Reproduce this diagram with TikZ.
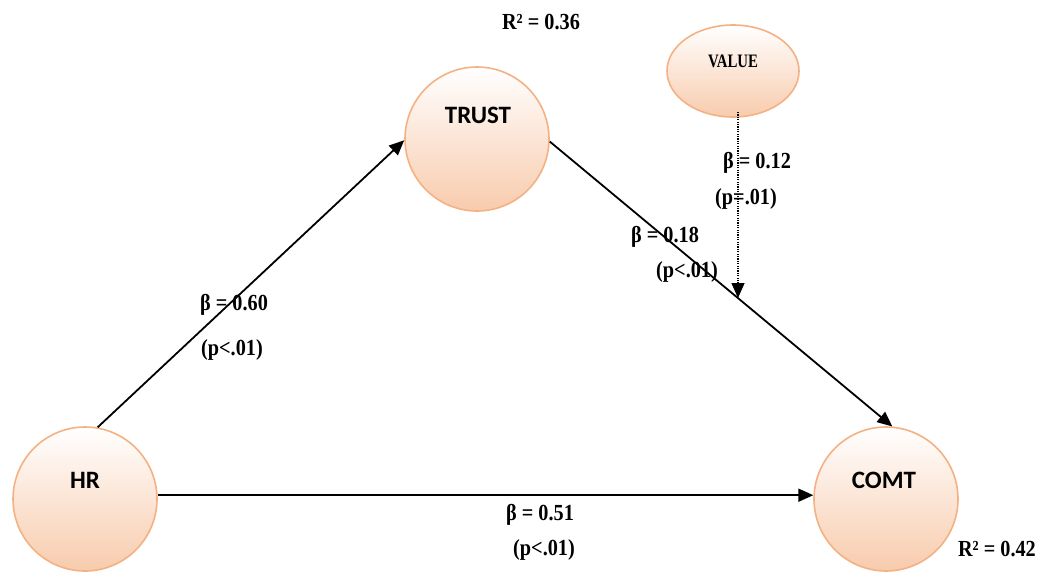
\documentclass[tikz,border=0pt]{standalone}
\usepackage{fontspec}
\setmainfont{Liberation Serif}
\newfontfamily\calib{Carlito}
\usetikzlibrary{arrows.meta,shapes.geometric}
\definecolor{peach}{HTML}{F8CBAD}
\definecolor{peachline}{HTML}{F4B183}
\newcommand{\cond}[1]{\scalebox{0.88}[1]{#1}}
\tikzset{
  construct/.style={circle, minimum size=144pt, inner sep=0pt, draw=peachline, line width=1.6pt, top color=white, bottom color=peach},
  valuebox/.style={ellipse, minimum width=132pt, minimum height=92pt, inner sep=0pt, draw=peachline, line width=1.6pt, top color=white, bottom color=peach},
  cname/.style={font=\calib\bfseries\fontsize{25}{28}\selectfont, inner sep=0pt},
  lbl/.style={font=\bfseries\fontsize{23}{26}\selectfont, inner sep=0pt, align=center},
  path/.style={line width=1.8pt, -{Triangle[length=15pt,width=13pt]}},
}
\begin{document}
\begin{tikzpicture}[x=1pt,y=-1pt]
\useasboundingbox (0,0) rectangle (1041,576);
\node[construct] (hr) at (85,499) {};
\node[construct] (trust) at (477,139) {};
\node[construct] (comt) at (886,499) {};
\node[valuebox] (value) at (733,71) {};
\node[cname] (hrT) at (85,480) {HR};
\node[cname] (trustT) at (478,115) {TRUST};
\node[cname] (comtT) at (884,480) {COMT};
\node[font=\bfseries\fontsize{19}{22}\selectfont, inner sep=0pt] (valueT) at (733,61) {\scalebox{0.78}[1]{VALUE}};
\coordinate (m) at (738,298);
\coordinate (vs) at (738,112);
\draw[path] (hr.80) -- (trust.181);
\draw[path] (trust.-2) -- (comt.85);
\draw[path] (hr.3) -- (comt.177);
\draw[line width=1.3pt, dash pattern=on 1.2pt off 1.2pt, -{Triangle[length=15pt,width=13pt]}] (vs) -- (m);
\node[lbl] (r1) at (541,22) {\cond{R² = 0.36}};
\node[lbl, anchor=east] (r2) at (1036,549) {\cond{R² = 0.42}};
\node[lbl] (b1) at (234,305) {\cond{β = 0.60}};
\node[lbl] (p1) at (232,350) {\cond{(p<.01)}};
\node[lbl] (b2) at (757,163) {\cond{β = 0.12}};
\node[lbl] (p2) at (746,199) {\cond{(p=.01)}};
\node[lbl] (b3) at (665,237) {\cond{β = 0.18}};
\node[lbl] (p3) at (687,272) {\cond{(p<.01)}};
\node[lbl] (b4) at (540,515) {\cond{β = 0.51}};
\node[lbl] (p4) at (544,550) {\cond{(p<.01)}};
\end{tikzpicture}
\end{document}
